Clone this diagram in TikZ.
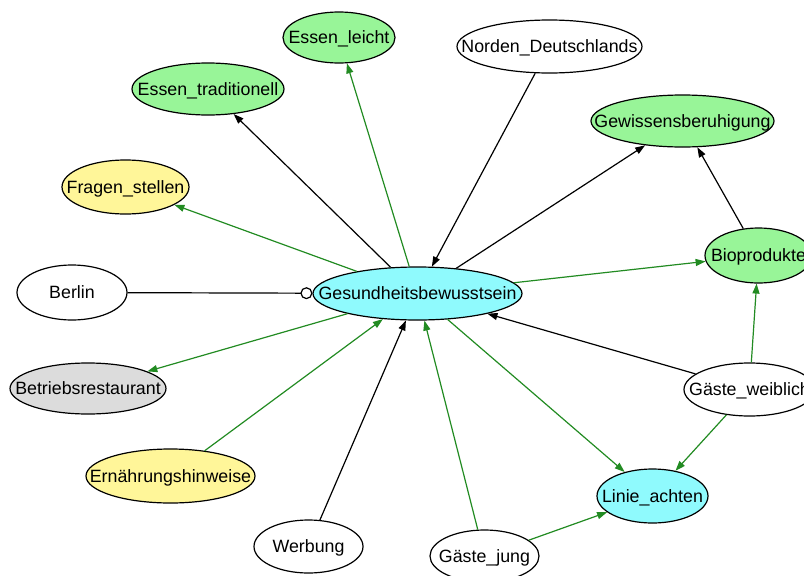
\documentclass[tikz,border=0pt]{standalone}
\usepackage{fontspec}
\setmainfont{Liberation Sans}
\usetikzlibrary{shapes.geometric,arrows.meta}

\definecolor{nodecyan}{RGB}{143,250,253}
\definecolor{nodegreen}{RGB}{152,245,152}
\definecolor{nodeyellow}{RGB}{255,246,153}
\definecolor{nodegray}{RGB}{220,220,220}
\definecolor{edgegreen}{RGB}{34,139,34}

% label of fixed-size ellipse: zero-size box so the ellipse keeps its given size
\newcommand\ovallabel[1]{\makebox[0pt]{\raisebox{-0.36em}[0pt][0pt]{#1}}}

\tikzset{
  oval/.style n args={2}{ellipse, draw=black, line width=1.2pt, inner sep=0pt,
    minimum width=#1pt, minimum height=#2pt,
    font=\fontsize{17.8}{20}\selectfont},
  blk/.style={draw=black, line width=1.2pt, -{Triangle[length=10pt,width=7pt]}},
  grn/.style={draw=edgegreen, line width=1.2pt, -{Triangle[length=10pt,width=7pt]}},
}

\begin{document}
\begin{tikzpicture}[x=1pt,y=-1pt]
\useasboundingbox (0,0) rectangle (804,576);

% nodes
\node[oval={209}{53}, fill=nodecyan]   (G)  at (417.5,293.5) {\ovallabel{Gesundheitsbewusstsein}};
\node[oval={112}{51}, fill=nodegreen]  (EL) at (339,37.5)    {\ovallabel{Essen\_leicht}};
\node[oval={152}{52}, fill=nodegreen]  (ET) at (208,89)      {\ovallabel{Essen\_traditionell}};
\node[oval={185}{53}, fill=white]      (ND) at (549.5,46.5)  {\ovallabel{Norden\_Deutschlands}};
\node[oval={183}{52}, fill=nodegreen]  (GB) at (682.5,121)   {\ovallabel{Gewissensberuhigung}};
\node[oval={127}{54}, fill=nodeyellow] (FS) at (125.5,187)   {\ovallabel{Fragen\_stellen}};
\node[oval={107}{55}, fill=nodegreen]  (BP) at (758.5,255.5) {\ovallabel{Bioprodukte}};
\node[oval={110}{55}, fill=white]      (BE) at (72,292.5)    {\ovallabel{Berlin}};
\node[oval={156}{51}, fill=nodegray]   (BR) at (88,388.5)    {\ovallabel{Betriebsrestaurant}};
\node[oval={131}{53}, fill=white]      (GW) at (749.5,389.5) {\ovallabel{Gäste\_weiblich}};
\node[oval={169}{54}, fill=nodeyellow] (EH) at (170.5,476)   {\ovallabel{Ernährungshinweise}};
\node[oval={111}{54}, fill=nodecyan]   (LA) at (652.5,496)   {\ovallabel{Linie\_achten}};
\node[oval={109}{53}, fill=white]      (WE) at (308.5,546.5) {\ovallabel{Werbung}};
\node[oval={109}{52}, fill=white]      (GJ) at (484.5,556)   {\ovallabel{Gäste\_jung}};

% connectors
\draw[blk] (G) -- (ET);
\draw[grn] (G) -- (EL);
\draw[blk] (ND) -- (G);
\draw[blk] (G) -- (GB);
\draw[grn] (G) -- (FS);
\draw[grn] (G) -- (BP);
\draw[blk] (BP) -- (GB);
\draw[draw=black, line width=1.2pt, -{Circle[open,fill=white,length=12pt]}] (BE) -- (G);
\draw[grn] (G) -- (BR);
\draw[grn] (EH) -- (G);
\draw[blk] (WE) -- (G);
\draw[grn] (GJ) -- (G);
\draw[grn] (G) -- (LA);
\draw[blk] (GW) -- (G);
\draw[grn] (GW) -- (BP);
\draw[grn] (GW) -- (LA);
\draw[grn] (GJ) -- (LA);
\end{tikzpicture}
\end{document}
